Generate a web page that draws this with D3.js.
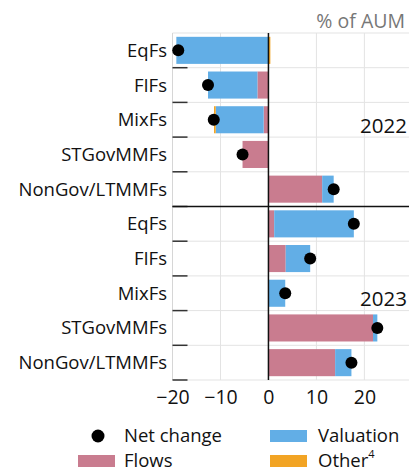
<!DOCTYPE html>
<html><head><meta charset="utf-8">
<script src="https://cdn.jsdelivr.net/npm/d3@7"></script>
<style>
html,body{margin:0;padding:0;background:#fff;}
svg{display:block;font-family:"Open Sans",sans-serif;}
</style></head>
<body><svg id="c" width="409" height="471"></svg>
<script>
const categories = ["EqFs","FIFs","MixFs","STGovMMFs","NonGov/LTMMFs"];
const years = ["2022","2023"];
const flows2022     = [0.0, -2.3, -1.0, -5.4, 11.2];
const valuation2022 = [-19.2, -10.3, -10.0, 0.0, 2.4];
const other2022     = [0.4, 0.0, -0.35, 0.0, 0.0];
const net2022       = [-18.8, -12.6, -11.4, -5.4, 13.6];
const flows2023     = [1.2, 3.6, 0.0, 21.8, 13.9];
const valuation2023 = [16.6, 5.1, 3.5, 0.9, 3.4];
const other2023     = [0.0, 0.0, 0.0, 0.0, 0.0];
const net2023       = [17.8, 8.7, 3.5, 22.7, 17.3];
const xTicks = [-20, -10, 0, 10, 20];
const seriesKeys = ["flows","valuation","other"];
const seriesLabels = {flows:"Flows", valuation:"Valuation", other:"Other"};
const colors = {flows:"#c97c8f", valuation:"#62aee6", other:"#f2a424"};

const rows = [];
categories.forEach((c,i)=>rows.push({id:"2022-"+i, cat:c, flows:flows2022[i], valuation:valuation2022[i], other:other2022[i], net:net2022[i]}));
categories.forEach((c,i)=>rows.push({id:"2023-"+i, cat:c, flows:flows2023[i], valuation:valuation2023[i], other:other2023[i], net:net2023[i]}));

const svg = d3.select("#c");
const m = {l:172.5, r:409, t:33, b:380};
const x = d3.scaleLinear().domain([-20, 29.3]).range([m.l, m.r]);
const y = d3.scaleBand().domain(rows.map(d=>d.id)).range([m.t, m.b]).paddingInner(0.22).paddingOuter(0.11);
const step = y.step();

// grid
const g = svg.append("g");
xTicks.filter(t=>t!==0).forEach(t=>{
  g.append("line").attr("x1",x(t)).attr("x2",x(t)).attr("y1",m.t).attr("y2",m.b).attr("stroke","#e3e3e3").attr("stroke-width",1);
});
for(let i=0;i<=rows.length;i++){
  const yy = m.t + i*step;
  g.append("line").attr("x1",m.l).attr("x2",m.r).attr("y1",yy).attr("y2",yy).attr("stroke","#e3e3e3").attr("stroke-width",1);
}
g.append("line").attr("x1",m.l).attr("x2",m.l).attr("y1",m.t).attr("y2",m.b).attr("stroke","#d6d6d6");

// stacked bars
const stack = d3.stack().keys(seriesKeys).offset(d3.stackOffsetDiverging);
const stacked = stack(rows);
stacked.forEach(s=>{
  svg.append("g").attr("fill",colors[s.key]).selectAll("rect").data(s).join("rect")
    .attr("x",d=>x(Math.min(d[0],d[1])))
    .attr("width",d=>Math.abs(x(d[1])-x(d[0])))
    .attr("y",d=>y(d.data.id))
    .attr("height",y.bandwidth());
});

// left ticks (between rows)
for(let i=1;i<=rows.length;i++){
  const yy = m.t + i*step;
  svg.append("line").attr("x1",m.l).attr("x2",m.l+15).attr("y1",yy).attr("y2",yy).attr("stroke","#333").attr("stroke-width",1.5);
}

// zero line & separator
svg.append("line").attr("x1",x(0)).attr("x2",x(0)).attr("y1",m.t).attr("y2",m.b).attr("stroke","#111").attr("stroke-width",1.5);
svg.append("line").attr("x1",m.l).attr("x2",m.r).attr("y1",m.t+5*step).attr("y2",m.t+5*step).attr("stroke","#111").attr("stroke-width",1.5);

// dots
svg.append("g").selectAll("circle").data(rows).join("circle")
  .attr("cx",d=>x(d.net)).attr("cy",d=>y(d.id)+y.bandwidth()/2).attr("r",6).attr("fill","#000");

// y labels
svg.append("g").selectAll("text").data(rows).join("text")
  .attr("x",167).attr("y",d=>y(d.id)+y.bandwidth()/2).attr("dy","0.35em")
  .attr("text-anchor","end").attr("font-size",18.5).attr("fill","#111").text(d=>d.cat);

// x axis labels
const xa = svg.append("g").attr("transform",`translate(0,${m.b})`).call(d3.axisBottom(x).tickValues(xTicks).tickSize(0).tickPadding(10).tickFormat(d=>d<0?"\u2212"+Math.abs(d):d));
xa.select(".domain").remove();
xa.selectAll("text").attr("font-size",19.5).attr("fill","#111").attr("font-family","Open Sans, sans-serif");

// year labels
svg.append("text").attr("x",407).attr("y",m.t+2.5*step+6).attr("text-anchor","end").attr("font-size",20.5).attr("fill","#111").attr("dy","0.35em").text(years[0]);
svg.append("text").attr("x",407).attr("y",m.t+7.5*step+6).attr("text-anchor","end").attr("font-size",20.5).attr("fill","#111").attr("dy","0.35em").text(years[1]);

// unit
svg.append("text").attr("x",405).attr("y",28).attr("text-anchor","end").attr("font-size",19.5).attr("fill","#777").text("% of AUM");

// legend
const lg = svg.append("g").attr("font-size",18.5).attr("fill","#111");
lg.append("circle").attr("cx",98).attr("cy",436).attr("r",6.5).attr("fill","#000");
lg.append("text").attr("x",124).attr("y",442).text("Net change");
lg.append("rect").attr("x",270).attr("y",430).attr("width",37).attr("height",12).attr("fill",colors.valuation);
lg.append("text").attr("x",318).attr("y",442).text(seriesLabels.valuation);
lg.append("rect").attr("x",78).attr("y",455).attr("width",37).attr("height",12).attr("fill",colors.flows);
lg.append("text").attr("x",124).attr("y",467).text(seriesLabels.flows);
lg.append("rect").attr("x",270).attr("y",455).attr("width",37).attr("height",12).attr("fill",colors.other);
const ot = lg.append("text").attr("x",318).attr("y",467).text(seriesLabels.other);
ot.append("tspan").attr("font-size",11).attr("dy",-9).text("4");
</script></body></html>
